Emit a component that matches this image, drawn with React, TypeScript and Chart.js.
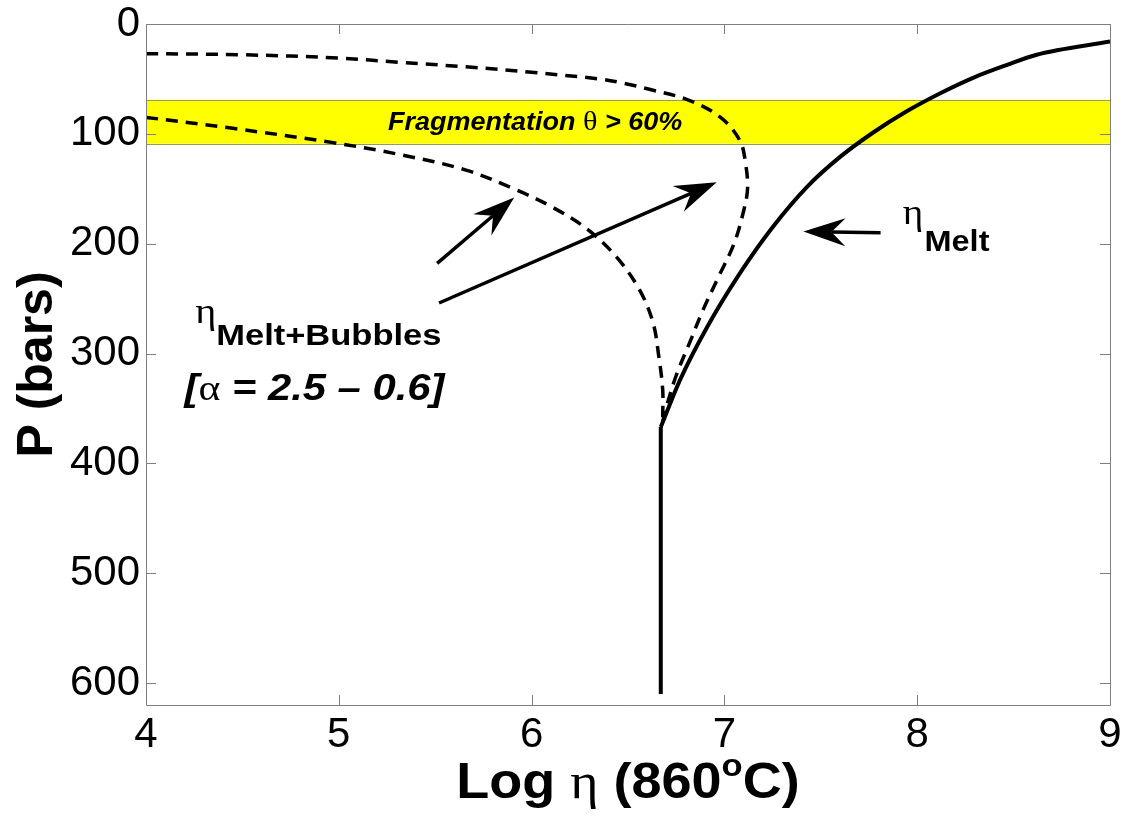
import React, { useEffect, useRef } from "react";
import { Chart, registerables } from "chart.js";

Chart.register(...registerables);

// ---------- data ----------
const xTickValues = [4, 5, 6, 7, 8, 9];
const yTickValues = [0, 100, 200, 300, 400, 500, 600];

// upper dashed curve (eta melt+bubbles, alpha = 2.5)
const upperLogEta = [4.0, 4.5, 5.0, 5.32, 5.66, 6.0, 6.35, 6.48, 6.6, 6.81, 6.98, 7.08, 7.11, 7.12, 7.1, 7.05, 6.97, 6.89, 6.82, 6.75, 6.7, 6.68];
const upperPressure = [27, 28, 31, 35, 39, 44, 50, 54, 59, 69, 85, 106, 127, 150, 170, 200, 230, 260, 290, 320, 348, 362];

// lower dashed curve (eta melt+bubbles, alpha = 0.6)
const lowerLogEta = [4.0, 4.45, 4.97, 5.32, 5.66, 5.92, 6.1, 6.29, 6.44, 6.56, 6.63, 6.66, 6.68, 6.68];
const lowerPressure = [85, 95, 108, 119, 133, 151, 166, 187, 212, 242, 272, 303, 333, 358];

// solid eta melt curve
const meltLogEta = [6.67, 6.77, 6.91, 7.08, 7.25, 7.43, 7.6, 7.77, 7.95, 8.12, 8.29, 8.47, 8.62, 9.0];
const meltPressure = [367, 324, 276, 227, 185, 148, 121, 99, 79, 63, 49, 37, 28, 16];
const meltStemLogEta = [6.67, 6.67];
const meltStemPressure = [610, 367];

// fragmentation band (bars)
const fragmentationBand = [69, 109];

// arrows: tail -> tip
const arrowFromLogEta = [5.51, 5.52, 7.81];
const arrowFromPressure = [218, 254, 190];
const arrowToLogEta = [5.91, 6.96, 7.41];
const arrowToPressure = [158, 144, 189];

// label anchors (data coords)
const meltLabelAt = [7.925, 182];
const bubblesLabelAt = [4.255, 272];
const alphaLabelAt = [4.2, 342];
const fragLabelAt = [5.255, 96.5];

const SANS = '"Liberation Sans", Arial, Helvetica, sans-serif';
const SERIF = '"Liberation Serif", "Times New Roman", serif';

const toXY = (xs: number[], ys: number[]) => xs.map((x, i) => ({ x, y: ys[i] }));

type Part = { text: string; font: string; dy?: number };

function drawParts(
  ctx: CanvasRenderingContext2D,
  parts: Part[],
  x: number,
  y: number,
  align: "left" | "center",
  sx = 1
) {
  const widths = parts.map((p) => {
    ctx.font = p.font;
    return ctx.measureText(p.text).width;
  });
  const total = widths.reduce((a, b) => a + b, 0);
  ctx.save();
  ctx.translate(x, y);
  ctx.scale(sx, 1);
  let cx = align === "center" ? -total / 2 : 0;
  ctx.textAlign = "left";
  ctx.textBaseline = "alphabetic";
  parts.forEach((p, i) => {
    ctx.font = p.font;
    ctx.fillText(p.text, cx, p.dy || 0);
    cx += widths[i];
  });
  ctx.restore();
}

function drawArrow(ctx: CanvasRenderingContext2D, x1: number, y1: number, x2: number, y2: number) {
  const dx = x2 - x1;
  const dy = y2 - y1;
  const len = Math.hypot(dx, dy);
  const ux = dx / len;
  const uy = dy / len;
  const nx = -uy;
  const ny = ux;
  const L = 42;
  const W = 14;
  const N = 28;
  ctx.save();
  ctx.strokeStyle = "#000";
  ctx.fillStyle = "#000";
  ctx.lineWidth = 3.5;
  ctx.lineCap = "butt";
  ctx.beginPath();
  ctx.moveTo(x1, y1);
  ctx.lineTo(x2 - N * ux, y2 - N * uy);
  ctx.stroke();
  ctx.beginPath();
  ctx.moveTo(x2, y2);
  ctx.lineTo(x2 - L * ux + W * nx, y2 - L * uy + W * ny);
  ctx.lineTo(x2 - N * ux, y2 - N * uy);
  ctx.lineTo(x2 - L * ux - W * nx, y2 - L * uy - W * ny);
  ctx.closePath();
  ctx.fill();
  ctx.restore();
}

const overlayPlugin = {
  id: "overlay",
  beforeDatasetsDraw(chart: any) {
    const { ctx, chartArea, scales } = chart;
    const y1 = scales.y.getPixelForValue(fragmentationBand[0]);
    const y2 = scales.y.getPixelForValue(fragmentationBand[1]);
    ctx.save();
    ctx.fillStyle = "#ffff00";
    ctx.fillRect(chartArea.left, y1, chartArea.right - chartArea.left, y2 - y1);
    ctx.strokeStyle = "#9a9a50";
    ctx.lineWidth = 1;
    ctx.beginPath();
    ctx.moveTo(chartArea.left, Math.round(y1) + 0.5);
    ctx.lineTo(chartArea.right, Math.round(y1) + 0.5);
    ctx.moveTo(chartArea.left, Math.round(y2) + 0.5);
    ctx.lineTo(chartArea.right, Math.round(y2) + 0.5);
    ctx.stroke();
    ctx.restore();
  },
  afterDatasetsDraw(chart: any) {
    const { ctx, chartArea, scales } = chart;
    const { left, right, top, bottom } = chartArea;
    const xs = scales.x;
    const ys = scales.y;
    ctx.save();
    // frame and inward ticks
    ctx.strokeStyle = "#7f7f7f";
    ctx.lineWidth = 1;
    ctx.beginPath();
    ctx.rect(Math.round(left) + 0.5, Math.round(top) + 0.5, Math.round(right - left), Math.round(bottom - top));
    xTickValues.forEach((v) => {
      const px = Math.round(xs.getPixelForValue(v)) + 0.5;
      ctx.moveTo(px, bottom);
      ctx.lineTo(px, bottom - 10);
      ctx.moveTo(px, top);
      ctx.lineTo(px, top + 10);
    });
    yTickValues.forEach((v) => {
      const py = Math.round(ys.getPixelForValue(v)) + 0.5;
      ctx.moveTo(left, py);
      ctx.lineTo(left + 10, py);
      ctx.moveTo(right, py);
      ctx.lineTo(right - 10, py);
    });
    ctx.stroke();

    // arrows
    arrowFromLogEta.forEach((_, i) => {
      drawArrow(
        ctx,
        xs.getPixelForValue(arrowFromLogEta[i]),
        ys.getPixelForValue(arrowFromPressure[i]),
        xs.getPixelForValue(arrowToLogEta[i]),
        ys.getPixelForValue(arrowToPressure[i])
      );
    });

    ctx.fillStyle = "#000";
    // eta Melt
    drawParts(
      ctx,
      [
        { text: "η", font: `35px ${SERIF}` },
        { text: " ", font: `4px ${SANS}` },
        { text: "Melt", font: `bold 29px ${SANS}`, dy: 27 },
      ],
      xs.getPixelForValue(meltLabelAt[0]),
      ys.getPixelForValue(meltLabelAt[1]),
      "left",
      1.12
    );
    // eta Melt+Bubbles
    drawParts(
      ctx,
      [
        { text: "η", font: `35px ${SERIF}` },
        { text: "Melt+Bubbles", font: `bold 30px ${SANS}`, dy: 22 },
      ],
      xs.getPixelForValue(bubblesLabelAt[0]),
      ys.getPixelForValue(bubblesLabelAt[1]),
      "left",
      1.15
    );
    // [alpha = 2.5 - 0.6]
    drawParts(
      ctx,
      [
        { text: "[", font: `italic bold 36px ${SANS}` },
        { text: "α", font: `36px ${SERIF}` },
        { text: " = 2.5 – 0.6]", font: `italic bold 36px ${SANS}` },
      ],
      xs.getPixelForValue(alphaLabelAt[0]),
      ys.getPixelForValue(alphaLabelAt[1]),
      "left",
      1.16
    );
    // Fragmentation
    drawParts(
      ctx,
      [
        { text: "Fragmentation ", font: `italic bold 25px ${SANS}` },
        { text: "θ", font: `28px ${SERIF}` },
        { text: " > 60%", font: `italic bold 25px ${SANS}` },
      ],
      xs.getPixelForValue(fragLabelAt[0]),
      ys.getPixelForValue(fragLabelAt[1]),
      "left",
      1.08
    );

    // axis titles
    drawParts(
      ctx,
      [
        { text: "Log ", font: `bold 50px ${SANS}` },
        { text: "η", font: `50px ${SERIF}` },
        { text: " (860", font: `bold 50px ${SANS}` },
        { text: "o", font: `bold 32px ${SANS}`, dy: -22 },
        { text: "C)", font: `bold 50px ${SANS}` },
      ],
      (left + right) / 2,
      798,
      "center",
      1.08
    );
    ctx.save();
    ctx.translate(52, (top + bottom) / 2);
    ctx.rotate(-Math.PI / 2);
    ctx.font = `bold 50px ${SANS}`;
    ctx.textAlign = "center";
    ctx.textBaseline = "alphabetic";
    ctx.fillText("P (bars)", 0, 0);
    ctx.restore();

    ctx.restore();
  },
};

export default function App() {
  const canvasRef = useRef<HTMLCanvasElement | null>(null);

  useEffect(() => {
    if (!canvasRef.current) return;
    const dashed = {
      showLine: true,
      borderColor: "#000",
      borderWidth: 3.5,
      borderDash: [12, 8],
      pointRadius: 0,
      tension: 0.35,
      fill: false,
    };
    const solid = {
      showLine: true,
      borderColor: "#000",
      borderWidth: 4,
      pointRadius: 0,
      fill: false,
    };
    const chart = new Chart(canvasRef.current, {
      type: "scatter",
      data: {
        datasets: [
          { label: "upper", data: toXY(upperLogEta, upperPressure), ...dashed },
          { label: "lower", data: toXY(lowerLogEta, lowerPressure), ...dashed },
          { label: "melt", data: toXY(meltLogEta, meltPressure), ...solid, cubicInterpolationMode: "monotone" },
          { label: "melt stem", data: toXY(meltStemLogEta, meltStemPressure), ...solid, tension: 0 },
        ] as any,
      },
      options: {
        animation: false,
        responsive: true,
        maintainAspectRatio: false,
        layout: { padding: { top: 24, right: 13, left: 0, bottom: 0 } },
        plugins: { legend: { display: false }, tooltip: { enabled: false } },
        scales: {
          x: {
            type: "linear",
            min: 4,
            max: 9,
            grid: { display: false, drawTicks: false },
            border: { display: false },
            ticks: { color: "#000", font: { family: SANS, size: 42 }, padding: 5, maxRotation: 0 },
            afterBuildTicks: (s: any) => {
              s.ticks = xTickValues.map((v) => ({ value: v }));
            },
            afterFit: (s: any) => {
              s.height = 116;
              s.paddingLeft = 0;
              s.paddingRight = 0;
            },
          },
          y: {
            type: "linear",
            reverse: true,
            min: 0,
            max: 620,
            grid: { display: false, drawTicks: false },
            border: { display: false },
            ticks: { color: "#000", font: { family: SANS, size: 42 }, padding: 6 },
            afterBuildTicks: (s: any) => {
              s.ticks = yTickValues.map((v) => ({ value: v }));
            },
            afterFit: (s: any) => {
              s.width = 146;
              s.paddingTop = 0;
              s.paddingBottom = 0;
            },
          },
        },
      } as any,
      plugins: [overlayPlugin],
    });
    return () => chart.destroy();
  }, []);

  return (
    <div style={{ position: "absolute", left: 0, top: 0, width: 1123, height: 821, background: "#fff" }}>
      <canvas ref={canvasRef} />
    </div>
  );
}
